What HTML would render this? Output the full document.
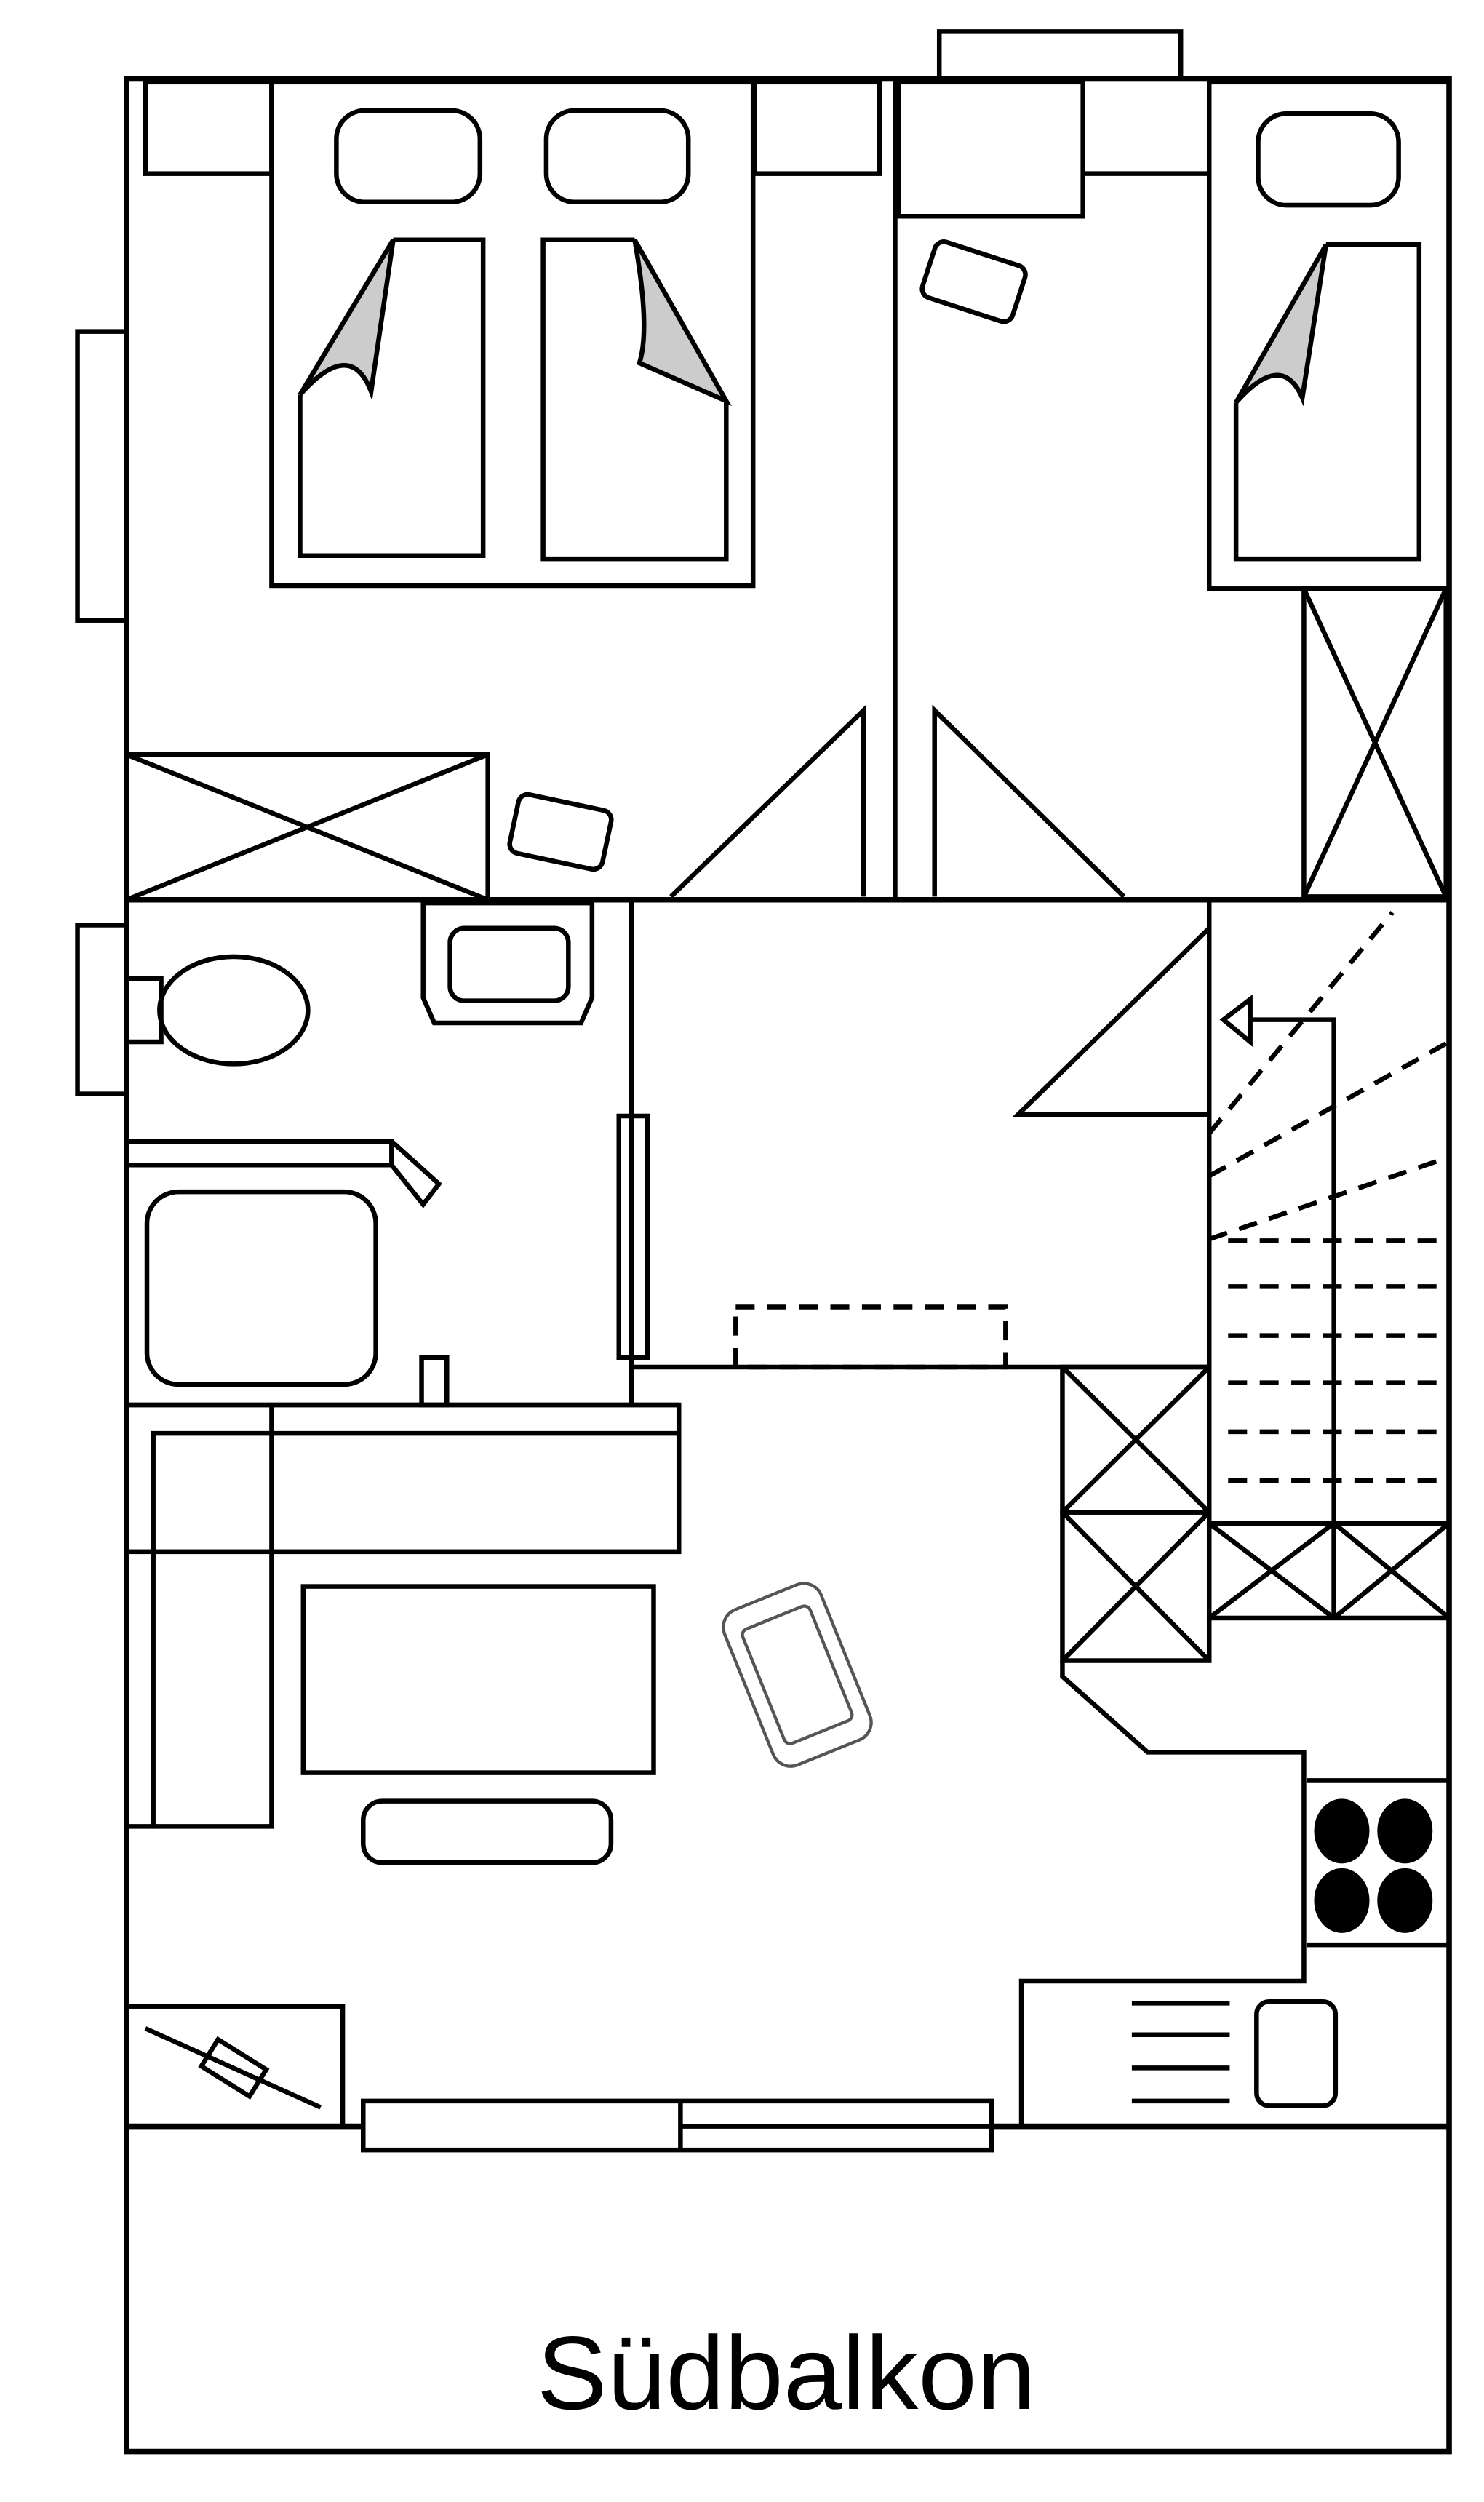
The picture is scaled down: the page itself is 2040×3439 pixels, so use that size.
<!DOCTYPE html>
<html><head><meta charset="utf-8"><style>html,body{margin:0;padding:0;background:#fff}svg{display:block}</style></head>
<body>
<svg width="2040" height="3439" viewBox="0 0 940 1585" xmlns="http://www.w3.org/2000/svg">
<g fill="none" stroke="#000" stroke-width="3" stroke-linejoin="miter">
<rect x="80" y="50" width="838" height="1503" stroke-width="3.5"/>
<rect x="595" y="20" width="153" height="30"/>
<rect x="49" y="210" width="31" height="183"/>
<rect x="49" y="586" width="31" height="107"/>
<line x1="80" y1="570" x2="918" y2="570" stroke-width="3.5"/>
<line x1="567" y1="50" x2="567" y2="570"/>
<rect x="92" y="52" width="80" height="58"/>
<rect x="478" y="52" width="79" height="58"/>
<rect x="172" y="52" width="305" height="319"/>
<rect x="213" y="70" width="91" height="58" rx="18"/>
<rect x="346" y="70" width="90" height="58" rx="18"/>
<path d="M249,152 L306,152 L306,352 L190,352 L190,250"/>
<path d="M249,152 L190,250 Q222,214 235,248 Z" fill="#ccc"/>
<path d="M402,152 L344,152 L344,354 L460,354 L460,254"/>
<path d="M402,152 Q412,208 405,230 L460,254 Z" fill="#ccc"/>
<rect x="80" y="478" width="229" height="92"/>
<line x1="80" y1="478" x2="309" y2="570"/>
<line x1="80" y1="570" x2="309" y2="478"/>
<rect x="325" y="508" width="60" height="38" rx="6" transform="rotate(12 355 527)"/>
<path d="M425,568 L547,450 L547,568"/>
<path d="M592,568 L592,450 L712,568"/>
<rect x="569" y="52" width="117" height="85"/>
<line x1="686" y1="110" x2="766" y2="110"/>
<rect x="766" y="52" width="152" height="321"/>
<rect x="797" y="72" width="89" height="58" rx="18"/>
<path d="M840,155 L899,155 L899,354 L783,354 L783,255"/>
<path d="M840,155 L783,255 Q812,222 825,252 Z" fill="#ccc"/>
<rect x="587" y="160" width="60" height="37" rx="6" transform="rotate(18 617 178)"/>
<rect x="826" y="373" width="90" height="195"/>
<line x1="826" y1="373" x2="916" y2="568"/>
<line x1="916" y1="373" x2="826" y2="568"/>
<line x1="400" y1="570" x2="400" y2="890"/>
<rect x="392" y="707" width="18" height="153"/>
<line x1="80" y1="890" x2="430" y2="890"/>
<rect x="80" y="620" width="22" height="40"/>
<ellipse cx="148" cy="640" rx="47" ry="34"/>
<path d="M268,572 L375,572 L375,632 L368,648 L275,648 L268,632 Z"/>
<rect x="285" y="588" width="75" height="46" rx="9"/>
<path d="M80,723 L248,723 L248,738 L80,738"/>
<path d="M248,723 L278,750 L268,763 L248,738"/>
<rect x="93" y="755" width="145" height="122" rx="20"/>
<rect x="267" y="860" width="16" height="30"/>
<line x1="400" y1="866" x2="766" y2="866"/>
<line x1="766" y1="570" x2="766" y2="866"/>
<path d="M766,588 L645,706 L766,706"/>
<rect x="466" y="828" width="171" height="38" stroke-dasharray="12,8"/>
<g stroke-dasharray="12,8">
<line x1="766" y1="718" x2="882" y2="578"/>
<line x1="766" y1="745" x2="918" y2="660"/>
<line x1="766" y1="785" x2="918" y2="733"/>
<line x1="778" y1="786" x2="918" y2="786"/>
<line x1="778" y1="815" x2="918" y2="815"/>
<line x1="778" y1="846" x2="918" y2="846"/>
<line x1="778" y1="876" x2="918" y2="876"/>
<line x1="778" y1="907" x2="918" y2="907"/>
<line x1="778" y1="938" x2="918" y2="938"/>
</g>
<path d="M845,1025 L845,646 L792,646"/>
<path d="M792,633 L775,646 L792,660 Z"/>
<rect x="766" y="965" width="152" height="60"/>
<line x1="845" y1="965" x2="845" y2="1025"/>
<path d="M766,965 L845,1025 M845,965 L766,1025 M845,965 L918,1025 M918,965 L845,1025"/>
<rect x="673" y="866" width="93" height="92"/>
<path d="M673,866 L766,958 M766,866 L673,958"/>
<rect x="673" y="958" width="93" height="94"/>
<path d="M673,958 L766,1052 M766,958 L673,1052"/>
<path d="M673,1052 L673,1062 L727,1110 L826,1110 L826,1255 L647,1255 L647,1347"/>
<line x1="766" y1="1025" x2="766" y2="1052"/>
<path d="M828,1128 L918,1128 M828,1232 L918,1232"/>
<ellipse cx="850" cy="1160" rx="16" ry="19" fill="#000"/>
<ellipse cx="890" cy="1160" rx="16" ry="19" fill="#000"/>
<ellipse cx="850" cy="1204" rx="16" ry="19" fill="#000"/>
<ellipse cx="890" cy="1204" rx="16" ry="19" fill="#000"/>
<path d="M717,1269 L779,1269 M717,1289 L779,1289 M717,1310 L779,1310 M717,1331 L779,1331"/>
<rect x="796" y="1268" width="50" height="66" rx="8"/>
<rect x="80" y="890" width="350" height="93"/>
<path d="M97,1157 L97,908 L430,908"/>
<path d="M172,890 L172,1157 L80,1157"/>
<rect x="192" y="1005" width="222" height="118"/>
<rect x="230" y="1141" width="157" height="39" rx="12"/>
<g stroke="#555" stroke-width="2">
<rect x="472" y="1008" width="66" height="106" rx="12" transform="rotate(-22 505 1061)"/>
<rect x="482" y="1022" width="46" height="78" rx="4" transform="rotate(-22 505 1061)"/>
</g>
<rect x="80" y="1271" width="137" height="76"/>
<line x1="92" y1="1285" x2="203" y2="1335"/>
<rect x="130" y="1300" width="36" height="20" transform="rotate(32 148 1310)"/>
<path d="M80,1347 L230,1347 M628,1347 L918,1347" stroke-width="3.5"/>
<rect x="230" y="1331" width="398" height="31"/>
<line x1="431" y1="1331" x2="431" y2="1362"/>
<line x1="431" y1="1347" x2="628" y2="1347"/>
</g>
<text x="340" y="1526" textLength="316" lengthAdjust="spacingAndGlyphs" font-family="'Liberation Sans', sans-serif" font-size="66" fill="#000">Südbalkon</text>
</svg>
</body></html>
